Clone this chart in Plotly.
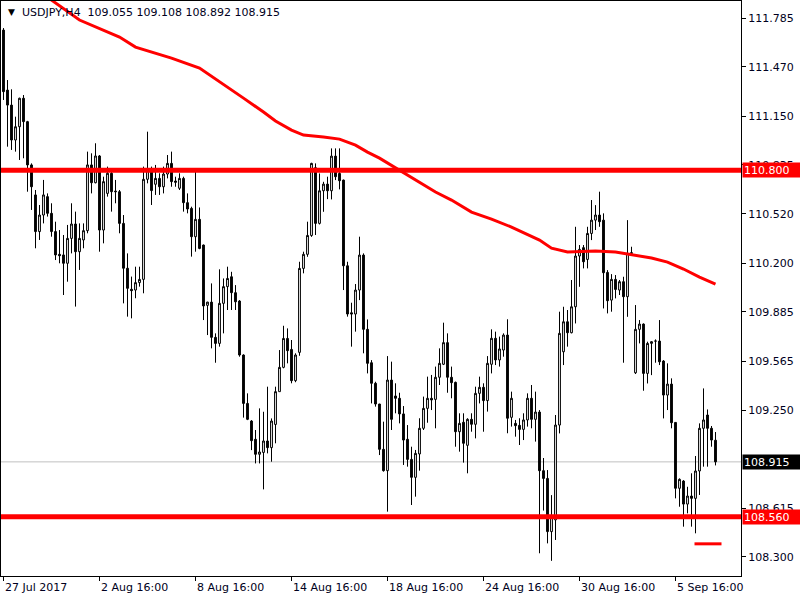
import plotly.graph_objects as go

# ---------------- data ----------------
opens = [111.707, 111.319, 111.222, 110.996, 111.082, 111.266, 111.115, 110.835, 110.641, 110.404,
         110.511, 110.630, 110.522, 110.404, 110.257, 110.253, 110.199, 110.360, 110.453, 110.274,
         110.350, 110.410, 110.835, 110.720, 110.893, 110.414, 110.651, 110.781, 110.666, 110.662,
         110.457, 110.167, 110.031, 110.026, 110.074, 110.095, 110.742, 110.802, 110.710, 110.748,
         110.694, 110.776, 110.845, 110.731, 110.684, 110.748, 110.591, 110.554, 110.371, 110.483,
         110.317, 109.927, 109.948, 109.720, 109.681, 109.940, 110.048, 110.112, 110.009, 109.955,
         109.606, 109.293, 109.179, 109.061, 108.964, 108.976, 109.050, 109.007, 109.157, 109.369,
         109.526, 109.713, 109.642, 109.440, 109.623, 110.166, 110.257, 110.379, 110.817, 110.457,
         110.668, 110.711, 110.668, 110.892, 110.780, 110.737, 110.183, 109.879, 109.871, 110.026,
         110.252, 109.772, 109.556, 109.423, 109.289, 108.996, 108.858, 109.444, 109.341, 109.326,
         109.225, 109.061, 108.931, 108.815, 108.966, 109.132, 109.261, 109.326, 109.319, 109.462,
         109.546, 109.686, 109.462, 109.429, 109.110, 109.171, 109.022, 109.190, 109.158, 109.358,
         109.397, 109.311, 109.546, 109.714, 109.574, 109.638, 109.735, 109.203, 109.164, 109.151,
         109.125, 109.186, 109.326, 109.190, 109.237, 108.858, 108.808, 108.464, 108.540, 109.153,
         109.627, 109.821, 109.750, 109.918, 110.246, 110.300, 110.224, 110.392, 110.478, 110.511,
         110.478, 110.140, 109.961, 110.095, 110.026, 110.080, 109.983, 110.263, 109.491, 109.772,
         109.806, 109.487, 109.681, 109.696, 109.696, 109.567, 109.347, 109.418, 109.170, 108.744,
         108.791, 108.642, 108.694, 108.679, 108.856, 109.132, 109.218, 109.132, 109.055]
highs = [111.720, 111.384, 111.324, 111.147, 111.270, 111.287, 111.120, 110.845, 110.673, 110.576,
         110.738, 110.651, 110.587, 110.468, 110.414, 110.382, 110.447, 110.587, 110.533, 110.457,
         110.457, 110.921, 110.910, 110.975, 110.899, 110.759, 110.824, 110.813, 110.738, 110.673,
         110.511, 110.263, 110.113, 110.177, 110.177, 110.824, 111.050, 110.824, 110.835, 110.781,
         110.824, 110.899, 110.921, 110.759, 110.781, 110.759, 110.651, 110.565, 110.800, 110.560,
         110.320, 109.950, 110.069, 109.746, 110.160, 110.101, 110.177, 110.144, 110.058, 109.961,
         109.610, 109.358, 109.185, 109.121, 109.261, 109.239, 109.401, 109.196, 109.401, 109.638,
         109.795, 109.778, 109.703, 109.617, 110.209, 110.274, 110.468, 110.849, 110.845, 110.780,
         110.726, 110.759, 110.942, 110.942, 110.942, 110.740, 110.209, 109.944, 110.065, 110.371,
         110.263, 109.836, 109.573, 109.433, 109.290, 109.175, 109.599, 109.563, 109.423, 109.362,
         109.276, 109.153, 109.013, 108.992, 109.197, 109.337, 109.466, 109.477, 109.531, 109.649,
         109.815, 109.746, 109.531, 109.434, 109.229, 109.229, 109.197, 109.229, 109.401, 109.466,
         109.423, 109.599, 109.772, 109.757, 109.725, 109.746, 109.837, 109.369, 109.186, 109.197,
         109.229, 109.358, 109.412, 109.369, 109.250, 108.940, 108.862, 108.700, 109.218, 109.886,
         109.918, 109.897, 110.091, 110.435, 110.317, 110.317, 110.435, 110.608, 110.575, 110.662,
         110.522, 110.155, 110.129, 110.123, 110.091, 110.112, 110.478, 110.306, 109.929, 109.832,
         109.810, 109.692, 109.695, 109.707, 109.832, 109.573, 109.552, 109.455, 109.170, 108.808,
         108.797, 108.754, 108.841, 108.953, 109.164, 109.390, 109.254, 109.147, 109.108]
lows = [111.255, 110.953, 110.932, 110.921, 110.867, 110.878, 110.662, 110.544, 110.296, 110.350,
        110.457, 110.501, 110.371, 110.220, 110.199, 109.994, 110.080, 110.263, 109.919, 110.156,
        110.296, 110.393, 110.651, 110.716, 110.274, 110.328, 110.630, 110.533, 110.587, 110.393,
        109.940, 109.854, 109.843, 109.973, 110.048, 110.005, 110.716, 110.576, 110.641, 110.641,
        110.651, 110.748, 110.694, 110.694, 110.673, 110.533, 110.522, 110.242, 110.274, 110.290,
        109.832, 109.735, 109.649, 109.556, 109.660, 109.746, 109.897, 109.897, 109.897, 109.595,
        109.201, 109.185, 108.991, 108.905, 108.905, 108.737, 108.970, 108.916, 109.035, 109.369,
        109.520, 109.552, 109.423, 109.430, 109.601, 110.134, 110.241, 110.370, 110.382, 110.450,
        110.532, 110.614, 110.612, 110.737, 110.677, 110.026, 109.854, 109.660, 109.757, 109.961,
        109.617, 109.487, 109.293, 109.272, 108.959, 108.852, 108.593, 109.121, 109.229, 109.164,
        108.895, 108.884, 108.636, 108.690, 108.858, 109.121, 109.168, 109.250, 109.132, 109.412,
        109.541, 109.362, 109.326, 109.013, 108.981, 108.910, 108.841, 109.110, 109.067, 109.293,
        109.110, 109.240, 109.487, 109.541, 109.531, 109.595, 109.100, 109.143, 109.078, 109.024,
        109.056, 109.143, 109.132, 109.046, 108.324, 108.600, 108.388, 108.275, 108.410, 109.099,
        109.541, 109.660, 109.746, 109.810, 110.047, 110.166, 110.166, 110.349, 110.414, 110.435,
        109.907, 109.875, 109.886, 109.972, 109.994, 109.556, 109.853, 110.252, 109.483, 109.681,
        109.375, 109.422, 109.476, 109.556, 109.541, 109.196, 109.250, 109.132, 108.679, 108.625,
        108.496, 108.582, 108.496, 108.453, 108.701, 108.884, 108.884, 109.013, 108.892]
closes = [111.309, 111.222, 110.996, 111.082, 111.266, 111.115, 110.835, 110.694, 110.404, 110.511,
          110.641, 110.522, 110.404, 110.253, 110.248, 110.199, 110.360, 110.453, 110.274, 110.360,
          110.410, 110.835, 110.720, 110.893, 110.414, 110.727, 110.781, 110.662, 110.662, 110.457,
          110.167, 110.037, 110.022, 110.074, 110.095, 110.742, 110.802, 110.669, 110.748, 110.694,
          110.776, 110.845, 110.727, 110.723, 110.748, 110.591, 110.550, 110.371, 110.483, 110.295,
          109.923, 109.948, 109.720, 109.681, 109.940, 110.048, 110.101, 110.009, 109.950, 109.606,
          109.293, 109.190, 109.052, 108.964, 108.979, 109.050, 109.007, 109.179, 109.369, 109.526,
          109.713, 109.634, 109.440, 109.606, 110.166, 110.257, 110.379, 110.845, 110.457, 110.668,
          110.711, 110.668, 110.892, 110.759, 110.733, 110.183, 109.871, 109.871, 110.026, 110.252,
          109.772, 109.552, 109.423, 109.289, 108.996, 108.858, 109.444, 109.190, 109.326, 109.225,
          109.056, 108.931, 108.815, 108.970, 109.132, 109.261, 109.326, 109.315, 109.462, 109.552,
          109.686, 109.462, 109.427, 109.110, 109.164, 109.035, 109.190, 109.158, 109.358, 109.397,
          109.311, 109.552, 109.714, 109.574, 109.645, 109.735, 109.197, 109.326, 109.149, 109.125,
          109.186, 109.326, 109.190, 109.237, 108.858, 108.808, 108.464, 108.560, 109.153, 109.746,
          109.821, 109.750, 109.918, 110.246, 110.289, 110.209, 110.392, 110.478, 110.511, 110.468,
          110.138, 109.957, 110.095, 110.030, 110.080, 109.983, 110.263, 110.267, 109.772, 109.806,
          109.487, 109.681, 109.692, 109.696, 109.562, 109.347, 109.418, 109.168, 108.744, 108.802,
          108.642, 108.694, 108.679, 108.856, 109.132, 109.186, 109.132, 109.056, 108.915]
bars = list(range(len(opens)))

# moving average (read at selected bars)
ma_bars = [10, 12, 19, 22, 29, 33, 37, 42, 49, 55, 60, 65, 68, 72, 75, 80, 84, 88, 91, 94,
           99, 104, 108, 112, 117, 122, 127, 134, 137, 141, 148, 153, 158, 162, 166, 170, 174, 178]
ma_values = [111.940, 111.901, 111.772, 111.739, 111.662, 111.597, 111.565, 111.526, 111.461, 111.358,
             111.267, 111.177, 111.119, 111.060, 111.028, 111.015, 111.002, 110.963, 110.918, 110.879,
             110.802, 110.724, 110.660, 110.608, 110.530, 110.485, 110.433, 110.349, 110.297, 110.272,
             110.278, 110.272, 110.252, 110.233, 110.207, 110.162, 110.110, 110.065]

time_tick_bars = [0, 24, 48, 72, 96, 120, 144, 168]
time_tick_labels = ["27 Jul 2017", "2 Aug 16:00", "8 Aug 16:00", "14 Aug 16:00",
                    "18 Aug 16:00", "24 Aug 16:00", "30 Aug 16:00", "5 Sep 16:00"]
price_ticks = [108.300, 108.615, 109.250, 109.565, 109.885, 110.200,
               110.520, 110.835, 111.150, 111.470, 111.785]
level_prices = [110.800, 108.560]
bid_price = 108.915
marker_price = 108.385
marker_bars = [172.75, 179.5]
symbol_text = "USDJPY,H4"
ohlc_text = "109.055 109.108 108.892 108.915"

FONT = "DejaVu Sans"
TEXT = "#000020"

fig = go.Figure()
fig.add_trace(go.Candlestick(
    x=bars, open=opens, high=highs, low=lows, close=closes,
    increasing=dict(line=dict(color="black", width=1), fillcolor="white"),
    decreasing=dict(line=dict(color="black", width=1), fillcolor="black"),
    whiskerwidth=0, showlegend=False, hoverinfo="skip"))
fig.add_trace(go.Scatter(x=ma_bars, y=ma_values, mode="lines",
                         line=dict(color="#FF0000", width=3), showlegend=False, hoverinfo="skip"))
fig.add_trace(go.Scatter(x=marker_bars, y=[marker_price] * len(marker_bars), mode="lines",
                         line=dict(color="#FF0000", width=3), showlegend=False, hoverinfo="skip"))

shapes = [dict(type="line", xref="paper", x0=0, x1=1, yref="y", y0=bid_price, y1=bid_price,
               line=dict(color="#C0C0C0", width=1), layer="below")]
for p in level_prices:
    shapes.append(dict(type="line", xref="paper", x0=0, x1=1, yref="y", y0=p, y1=p,
                       line=dict(color="#FF0000", width=5), layer="above"))

annotations = []
annotations.append(dict(xref="paper", yref="paper", x=0, y=1, xanchor="left", yanchor="top",
                        xshift=5, yshift=-4, showarrow=False, text="▼",
                        font=dict(family=FONT, size=9, color="black")))
annotations.append(dict(xref="paper", yref="paper", x=0, y=1, xanchor="left", yanchor="top",
                        xshift=19, yshift=-3, showarrow=False,
                        text=symbol_text + "\u00a0\u00a0" + ohlc_text,
                        font=dict(family=FONT, size=11, color=TEXT)))
for b, t in zip(time_tick_bars, time_tick_labels):
    annotations.append(dict(x=b, xref="x", y=0, yref="paper", xanchor="left", yanchor="top",
                            yshift=-3, xshift=-1, showarrow=False, text=t,
                            font=dict(family=FONT, size=11, color=TEXT)))
for p, bg in [(level_prices[0], "#FF0000"), (level_prices[1], "#FF0000"), (bid_price, "#000000")]:
    annotations.append(dict(x=1, xref="paper", y=p, yref="y", xanchor="left", yanchor="middle",
                            xshift=1, showarrow=False, text=f"{p:.3f}", bgcolor=bg,
                            width=56, height=12, align="left", borderpad=1,
                            font=dict(family=FONT, size=11, color="white")))

fig.update_layout(
    width=800, height=600,
    margin=dict(l=1, r=59, t=1, b=24, autoexpand=False),
    paper_bgcolor="white", plot_bgcolor="white",
    showlegend=False, hovermode=False, boxgap=0.35,
    shapes=shapes, annotations=annotations,
    xaxis=dict(range=[-0.625, 184.375], rangeslider=dict(visible=False), showgrid=False,
               zeroline=False, showline=True, linecolor="black", linewidth=1, mirror=True,
               ticks="outside", ticklen=4, tickcolor="black", tickvals=time_tick_bars,
               showticklabels=False, automargin=False),
    yaxis=dict(range=[108.177, 111.895], side="right", showgrid=False, zeroline=False,
               showline=True, linecolor="black", linewidth=1, mirror=True,
               ticks="outside", ticklen=4, tickcolor="black", tickvals=price_ticks,
               ticktext=[f"{v:.3f}" for v in price_ticks], automargin=False,
               tickfont=dict(family=FONT, size=11, color=TEXT)),
)

fig.write_html("out.html", config={"displayModeBar": False},
               post_script="document.body.style.margin='0';")
